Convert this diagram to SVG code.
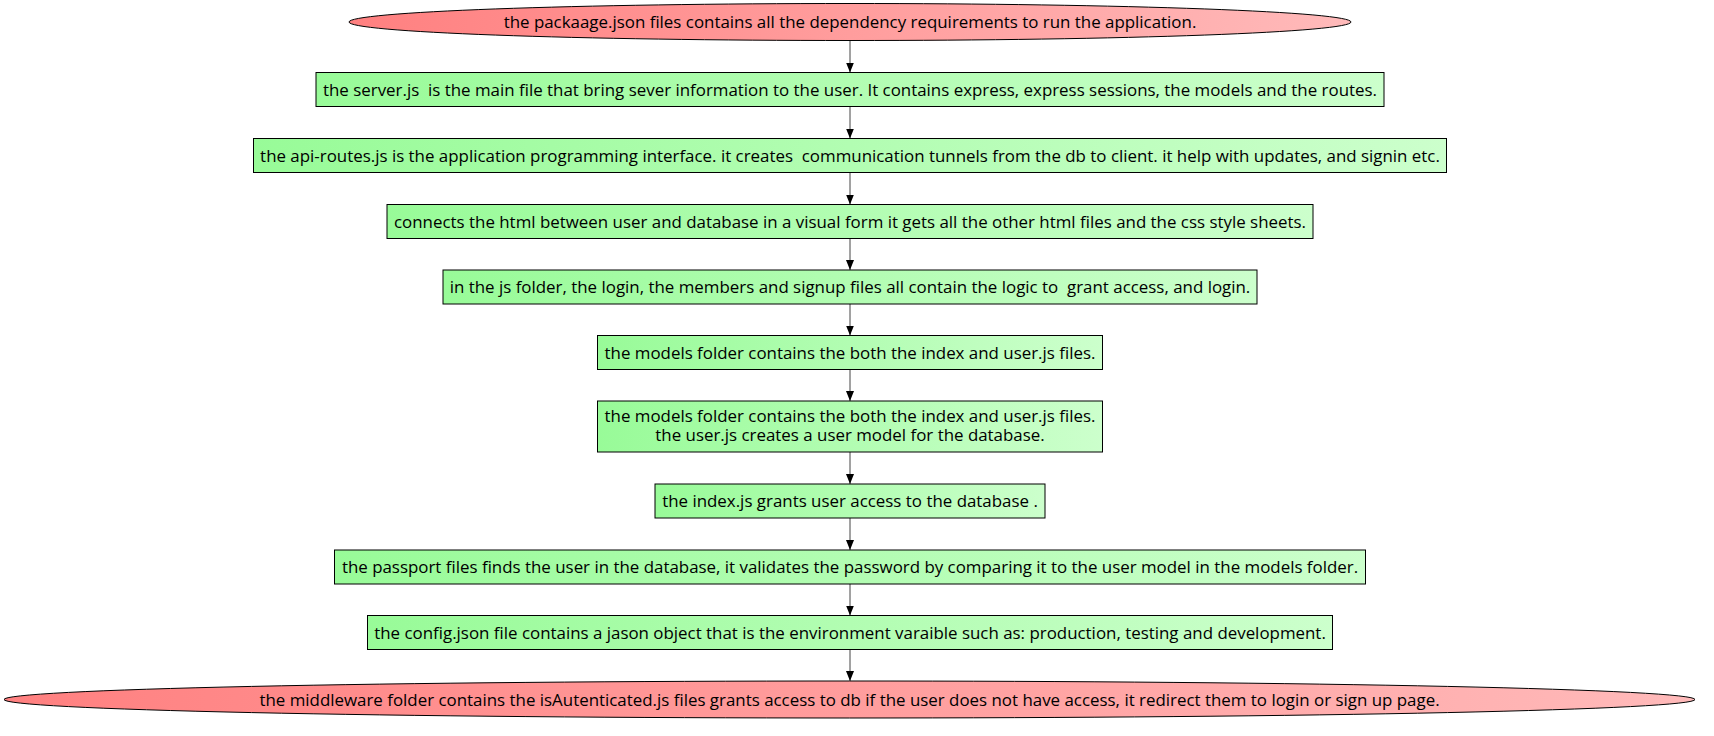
<svg xmlns="http://www.w3.org/2000/svg" width="1714" height="736" viewBox="0 0 1714 736">
<defs>
<linearGradient id="gg" x1="0" y1="0" x2="1" y2="0">
<stop offset="0" stop-color="#98fb98"/>
<stop offset="1" stop-color="#ccffcc"/>
</linearGradient>
<linearGradient id="rg" x1="0" y1="0" x2="1" y2="0">
<stop offset="0" stop-color="#ff8080"/>
<stop offset="1" stop-color="#ffbaba"/>
</linearGradient>
<marker id="ah" markerWidth="10" markerHeight="8" refX="10" refY="4" orient="auto" markerUnits="userSpaceOnUse">
<path d="M0,0 L10,4 L0,8 Z" fill="#000"/>
</marker>
<style>
.box{fill:url(#gg);stroke:#000;stroke-width:1}
.ell{fill:url(#rg);stroke:#000;stroke-width:1}
text{font-family:"Open Sans","Noto Sans",sans-serif;font-size:16.9px;fill:#000;text-anchor:middle}
.e{stroke:#444;stroke-width:1;fill:none;marker-end:url(#ah)}
</style>
</defs>
<rect width="1714" height="736" fill="#fff"/>
<g id="connectors">
<line class="e" x1="850" y1="40.5" x2="850" y2="72.5"/>
<line class="e" x1="850" y1="106.5" x2="850" y2="138.5"/>
<line class="e" x1="850" y1="172.5" x2="850" y2="204.5"/>
<line class="e" x1="850" y1="238.5" x2="850" y2="270"/>
<line class="e" x1="850" y1="304" x2="850" y2="335.5"/>
<line class="e" x1="850" y1="369.5" x2="850" y2="401"/>
<line class="e" x1="850" y1="452" x2="850" y2="484"/>
<line class="e" x1="850" y1="518" x2="850" y2="550"/>
<line class="e" x1="850" y1="584" x2="850" y2="615.5"/>
<line class="e" x1="850" y1="649.5" x2="850" y2="681"/>
</g>
<g id="n0">
<ellipse class="ell" cx="850" cy="22" rx="501" ry="18.5"/>
<text x="850" y="28">the packaage.json files contains all the dependency requirements to run the application.</text>
</g>
<g id="n1">
<rect class="box" x="316" y="72.5" width="1068" height="34"/>
<text x="850" y="95.5" xml:space="preserve">the server.js  is the main file that bring sever information to the user. It contains express, express sessions, the models and the routes.</text>
</g>
<g id="n2">
<rect class="box" x="253.5" y="138.5" width="1193" height="34"/>
<text x="850" y="161.5" xml:space="preserve">the api-routes.js is the application programming interface. it creates  communication tunnels from the db to client. it help with updates, and signin etc.</text>
</g>
<g id="n3">
<rect class="box" x="387" y="204.5" width="926" height="34"/>
<text x="850" y="227.5">connects the html between user and database in a visual form it gets all the other html files and the css style sheets.</text>
</g>
<g id="n4">
<rect class="box" x="443" y="270" width="814" height="34"/>
<text x="850" y="293" xml:space="preserve">in the js folder, the login, the members and signup files all contain the logic to  grant access, and login.</text>
</g>
<g id="n5">
<rect class="box" x="597.5" y="335.5" width="505" height="34"/>
<text x="850" y="358.5">the models folder contains the both the index and user.js files.</text>
</g>
<g id="n6">
<rect class="box" x="597.5" y="401" width="505" height="51"/>
<text x="850" y="421.5">the models folder contains the both the index and user.js files.</text>
<text x="850" y="441">the user.js creates a user model for the database.</text>
</g>
<g id="n7">
<rect class="box" x="655" y="484" width="390" height="34"/>
<text x="850" y="507">the index.js grants user access to the database .</text>
</g>
<g id="n8">
<rect class="box" x="334.5" y="550" width="1031" height="34"/>
<text x="850" y="573">the passport files finds the user in the database, it validates the password by comparing it to the user model in the models folder.</text>
</g>
<g id="n9">
<rect class="box" x="367.5" y="615.5" width="965" height="34"/>
<text x="850" y="638.5">the config.json file contains a jason object that is the environment varaible such as: production, testing and development.</text>
</g>
<g id="n10">
<ellipse class="ell" cx="849.5" cy="699.5" rx="845.5" ry="18.5"/>
<text x="849.5" y="705.5">the middleware folder contains the isAutenticated.js files grants access to db if the user does not have access, it redirect them to login or sign up page.</text>
</g>
</svg>
